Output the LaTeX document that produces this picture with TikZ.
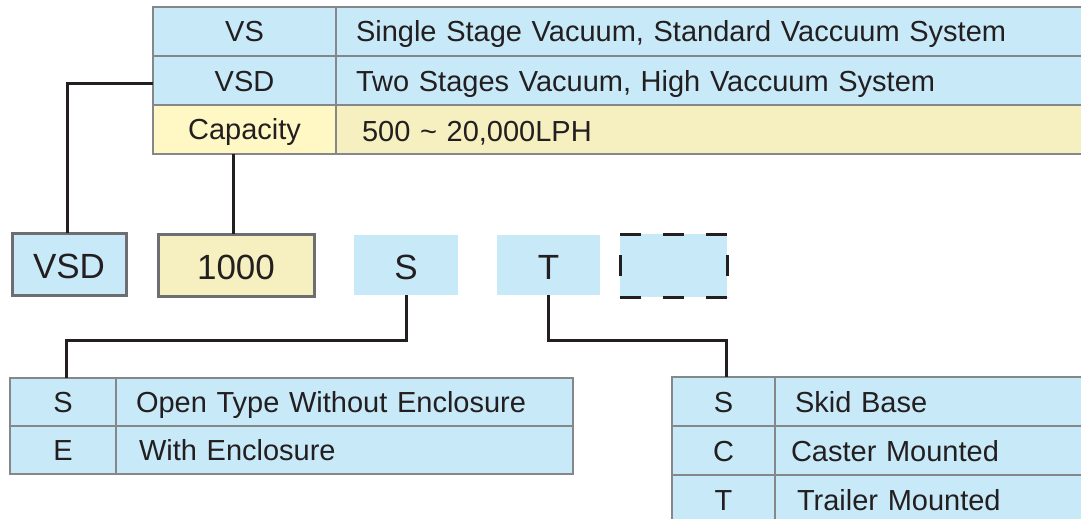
\documentclass[tikz,border=0pt]{standalone}
\usepackage{fontspec}
\setmainfont{Liberation Sans}
\usepackage{tikz}
\usetikzlibrary{positioning}
\definecolor{skyfill}{HTML}{C7E9F8}
\definecolor{creamfill}{HTML}{F6EFC0}
\definecolor{lightcream}{HTML}{FFF8C5}
\definecolor{gridgray}{HTML}{85878A}
\definecolor{boxgray}{HTML}{6D6E71}
\definecolor{inkdark}{HTML}{231F20}

\begin{document}
\begin{tikzpicture}[x=1pt, y=-1pt,
    every node/.style={text=inkdark, outer sep=0pt, inner sep=0pt},
    cell/.style={rectangle, draw=gridgray, line width=1.5pt, fill=skyfill, anchor=north west, minimum height=49pt, font=\fontsize{29}{34}\selectfont, text height=21pt, text depth=0pt},
    keycell/.style={cell, minimum width=#1},
    desccell/.style={cell, text width=#1, inner xsep=20pt, align=left},
    codebox/.style={rectangle, draw=boxgray, line width=3pt, anchor=north west, minimum height=62pt, font=\fontsize{35}{40}\selectfont, text height=28pt, text depth=0pt},
    plainbox/.style={codebox, draw=none, fill=skyfill, minimum height=60pt},
    link/.style={draw=inkdark, line width=3pt},
    dashline/.style={link, dash pattern=on 21pt off 22pt},
    sideline/.style={link, dash pattern=on 21pt off 21pt, dash phase=21pt}
]
\useasboundingbox (0,0) rectangle (1081,519);
\clip (0,0) rectangle (1081,519);

% Model table
\node[keycell=183pt] (vs) at (153,7) {VS};
\node[desccell=714pt, right=0pt of vs] (vsdesc) {Single Stage Vacuum, Standard Vaccuum System};
\node[keycell=183pt, below=0pt of vs] (vsd) {VSD};
\node[desccell=714pt, right=0pt of vsd] (vsddesc) {Two Stages Vacuum, High Vaccuum System};
\node[keycell=183pt, fill=lightcream, below=0pt of vsd, text height=19pt] (cap) {Capacity};
\node[desccell=714pt, fill=creamfill, right=0pt of cap, text height=24pt] (capdesc) {\hspace*{6pt}500 \textasciitilde\ 20,000LPH};

% Code boxes
\node[codebox, fill=skyfill, minimum width=114pt] (codevsd) at (12,233) {VSD};
\node[codebox, fill=creamfill, minimum width=156pt] (codecap) at (158,234) {1000};
\node[plainbox, minimum width=104pt] (codes) at (354,235) {S};
\node[plainbox, minimum width=103pt] (codet) at (497,235) {T};
\node[plainbox, minimum width=107pt, minimum height=63pt] (codeopt) at (620,234) {};

% Enclosure table
\node[keycell=106pt, minimum height=48pt] (encs) at (10,378) {S};
\node[desccell=417pt, minimum height=48pt, right=0pt of encs] (encsdesc) {Open Type Without Enclosure};
\node[keycell=106pt, minimum height=48pt, below=0pt of encs] (ence) {E};
\node[desccell=417pt, minimum height=48pt, right=0pt of ence] (encedesc) {\hspace*{3pt}With Enclosure};

% Mounting table
\node[keycell=103pt] (mnts) at (672,377) {S};
\node[desccell=290pt, right=0pt of mnts] (mntsdesc) {Skid Base};
\node[keycell=103pt, below=0pt of mnts] (mntc) {C};
\node[desccell=290pt, right=0pt of mntc] (mntcdesc) {\hspace*{-4pt}Caster Mounted};
\node[keycell=103pt, below=0pt of mntc] (mntt) {T};
\node[desccell=290pt, right=0pt of mntt] (mnttdesc) {\hspace*{2pt}Trailer Mounted};

% Optional box outline
\draw[dashline] (codeopt.north west) -- (codeopt.north east);
\draw[dashline] (codeopt.south west) -- (codeopt.south east);
\draw[sideline] (codeopt.north west) -- (codeopt.south west);
\draw[sideline] (codeopt.north east) -- (codeopt.south east);

% Connectors
\draw[link] ([yshift=-2.5pt]vsd.west) -| ([xshift=-2pt]codevsd.north);
\draw[link] ([xshift=-11pt]cap.south) -- ([xshift=-11pt]cap.south |- codecap.north);
\draw[link] (codes.south) -- ++(0,45) -| ([xshift=3pt]encs.north);
\draw[link] (codet.south) -- ++(0,45) -| ([xshift=3pt]mnts.north);
\end{tikzpicture}
\end{document}
